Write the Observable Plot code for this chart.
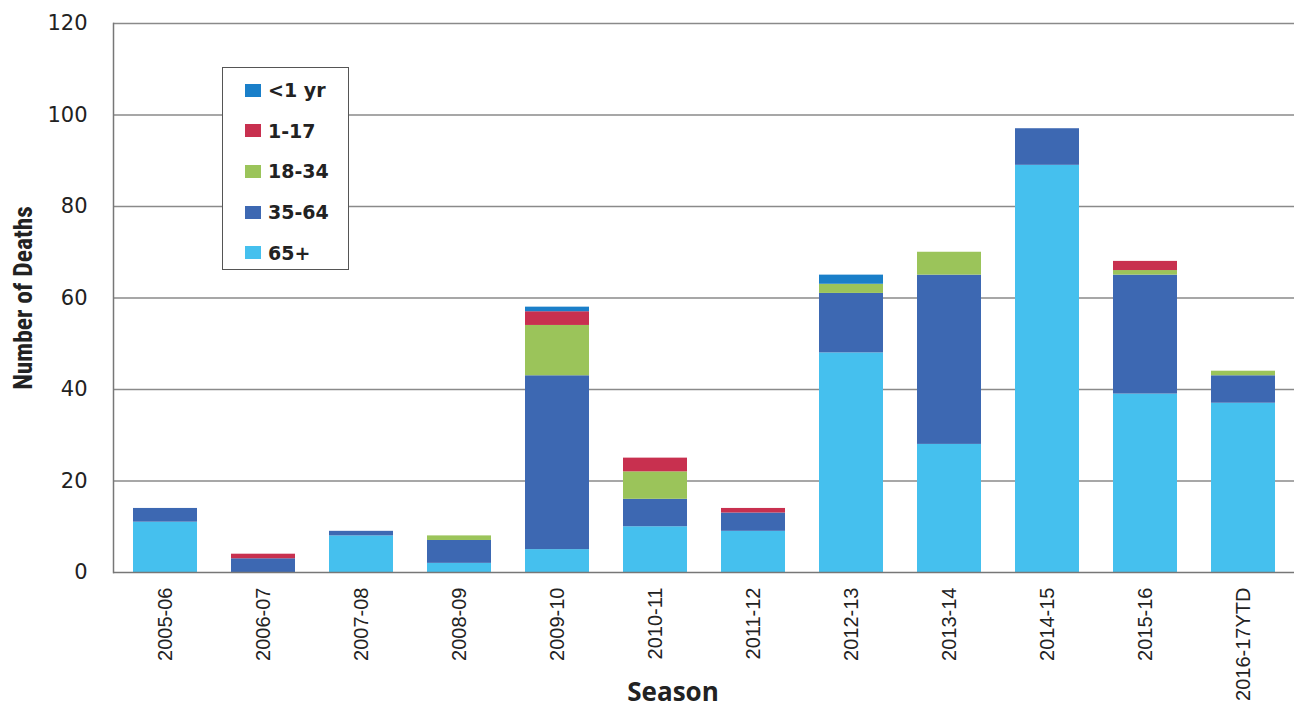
<!DOCTYPE html>
<html>
<head>
<meta charset="utf-8">
<script src="https://cdn.jsdelivr.net/npm/d3@7"></script>
<script src="https://cdn.jsdelivr.net/npm/@observablehq/plot@0.6"></script>
<style>
  html, body { margin: 0; padding: 0; background: #fff; }
  #wrap { position: relative; width: 1294px; height: 709px; }
  g[aria-label="y-axis label"] text {
    font-family: "Liberation Sans Narrow", "Roboto Condensed", sans-serif;
    font-weight: bold; font-size: 25.5px; fill: #222;
  }
  g[aria-label="x-axis tick label"] text {
    font-family: "Liberation Sans Narrow", sans-serif; font-size: 20px; fill: #222;
  }
  #legend {
    position: absolute; left: 222px; top: 67px; width: 125px; height: 201px;
    border: 1.5px solid #555; background: #fff; box-sizing: content-box;
    font-family: "DejaVu Sans", sans-serif; font-weight: bold; font-size: 19px; color: #222;
  }
  #legend .row { position: absolute; left: 22px; display: flex; align-items: center; height: 22px; }
  #legend .sw { width: 16px; height: 13px; margin-right: 7px; }
</style>
</head>
<body>
<div id="wrap"></div>
<script>
const seasons = ["2005-06","2006-07","2007-08","2008-09","2009-10","2010-11","2011-12","2012-13","2013-14","2014-15","2015-16","2016-17YTD"];
const ageGroups = ["<1 yr","1-17","18-34","35-64","65+"];
const ageColors = ["#1a7fc9","#c8304f","#9bc45a","#3d68b2","#45c0ee"];
const under1   = [0,0,0,0,1,0,0,2,0,0,0,0];
const age1_17  = [0,1,0,0,3,3,1,0,0,0,2,0];
const age18_34 = [0,0,0,1,11,6,0,2,5,0,1,1];
const age35_64 = [3,3,1,5,38,6,4,13,37,8,26,6];
const age65    = [11,0,8,2,5,10,9,48,28,89,39,37];
const yTicks = [0,20,40,60,80,100,120];

// stacking order: bottom to top
const stackOrder = [["65+", age65],["35-64", age35_64],["18-34", age18_34],["1-17", age1_17],["<1 yr", under1]];
const rows = [];
for (const [age, vals] of stackOrder) {
  seasons.forEach((s, i) => rows.push({season: s, age, deaths: vals[i]}));
}

const chart = Plot.plot({
  width: 1294, height: 709,
  marginLeft: 113, marginRight: 0, marginTop: 23, marginBottom: 137,
  style: {fontFamily: "DejaVu Sans, sans-serif", fontSize: "17px", color: "#222", background: "#fff"},
  x: {domain: seasons, paddingInner: 0.35, paddingOuter: 0.19},
  y: {domain: [0, 120]},
  color: {domain: ageGroups, range: ageColors},
  marks: [
    Plot.gridY(yTicks.slice(1), {stroke: "#8a8a8a", strokeOpacity: 1, strokeWidth: 1.5}),
    Plot.barY(rows, {x: "season", y: "deaths", fill: "age", order: stackOrder.map(d => d[0])}),
    Plot.ruleY([0], {stroke: "#777", strokeWidth: 1.5}),
    Plot.frame({anchor: "left", stroke: "#777", strokeWidth: 1.5}),
    Plot.axisY(yTicks, {tickSize: 0, tickPadding: 26, fontSize: 21, label: "Number of Deaths", labelAnchor: "center", labelArrow: false, labelOffset: 100}),
    Plot.axisX({tickSize: 0, tickPadding: 15, tickRotate: -90, label: null}),
    Plot.text(["Season"], {frameAnchor: "bottom", dx: -31, dy: 120, lineAnchor: "middle", fontFamily: "Open Sans, sans-serif", fontWeight: "bold", fontSize: 26, fill: "#222"})
  ]
});
const wrap = document.getElementById("wrap");
wrap.appendChild(chart);

const legend = document.createElement("div");
legend.id = "legend";
ageGroups.forEach((g, i) => {
  const row = document.createElement("div");
  row.className = "row";
  row.style.top = (11 + i * 40.7) + "px";
  const sw = document.createElement("span");
  sw.className = "sw";
  sw.style.background = ageColors[i];
  const t = document.createElement("span");
  t.textContent = g;
  row.appendChild(sw); row.appendChild(t);
  legend.appendChild(row);
});
wrap.appendChild(legend);
</script>
</body>
</html>
